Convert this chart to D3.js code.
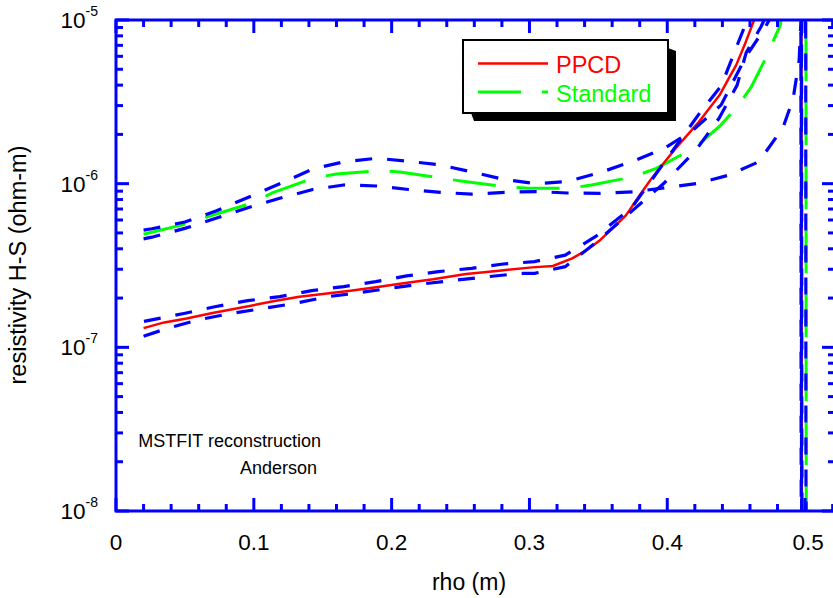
<!DOCTYPE html>
<html>
<head>
<meta charset="utf-8">
<script src="https://cdn.jsdelivr.net/npm/d3@7"></script>
<style>
  html, body { margin: 0; padding: 0; background: #fff; }
  svg { display: block; font-family: "Liberation Sans", Arial, sans-serif; }
</style>
</head>
<body>
<svg id="chart" width="833" height="598"></svg>
<script>
// Resistivity profiles (ohm-m) versus minor radius rho (m)

// PPCD profile and its uncertainty band
const rhoPPCD = [0.02, 0.035, 0.0512, 0.07, 0.097, 0.115, 0.133, 0.15, 0.17, 0.19, 0.206, 0.23, 0.254, 0.278, 0.302, 0.317, 0.331, 0.341, 0.351, 0.36, 0.37, 0.38, 0.387, 0.396, 0.406, 0.415, 0.423, 0.43, 0.438, 0.445, 0.45, 0.456, 0.463, 0.475, 0.49, 0.497, 0.4975, 0.498];
const ppcd = [1.31e-7, 1.42e-7, 1.50e-7, 1.62e-7, 1.79e-7, 1.92e-7, 2.04e-7, 2.12e-7, 2.22e-7, 2.34e-7, 2.45e-7, 2.61e-7, 2.81e-7, 2.94e-7, 3.08e-7, 3.14e-7, 3.50e-7, 3.90e-7, 4.50e-7, 5.30e-7, 6.40e-7, 8.50e-7, 1.03e-6, 1.29e-6, 1.64e-6, 2.00e-6, 2.39e-6, 2.85e-6, 3.48e-6, 4.46e-6, 5.30e-6, 7.00e-6, 1.0e-5, 3.0e-5, 2.0e-4, 1.0e-2, 3.0e-8, 1.0e-9];

const rhoPPCDHi = [0.0203, 0.0493, 0.0717, 0.0957, 0.1188, 0.142, 0.1652, 0.1884, 0.2109, 0.234, 0.258, 0.281, 0.3036, 0.326, 0.3478, 0.374, 0.3906, 0.4246, 0.4391, 0.4507, 0.458, 0.475, 0.4968, 0.4971, 0.4974];
const ppcdHi = [1.44e-7, 1.61e-7, 1.77e-7, 1.93e-7, 2.04e-7, 2.22e-7, 2.35e-7, 2.52e-7, 2.73e-7, 2.90e-7, 3.04e-7, 3.23e-7, 3.34e-7, 3.66e-7, 4.74e-7, 7.10e-7, 1.11e-6, 2.78e-6, 3.95e-6, 7.00e-6, 1.0e-5, 5.0e-5, 1.0e-2, 3.0e-8, 1.0e-9];

const rhoPPCDLo = [0.02, 0.0377, 0.0609, 0.0833, 0.1072, 0.1304, 0.1536, 0.1768, 0.1993, 0.2225, 0.2457, 0.2696, 0.2928, 0.3036, 0.326, 0.3478, 0.3978, 0.421, 0.4377, 0.4507, 0.4572, 0.468, 0.4703, 0.485, 0.4972, 0.4976, 0.498];
const ppcdLo = [1.17e-7, 1.31e-7, 1.48e-7, 1.61e-7, 1.73e-7, 1.86e-7, 2.04e-7, 2.16e-7, 2.30e-7, 2.44e-7, 2.57e-7, 2.70e-7, 2.83e-7, 2.83e-7, 3.11e-7, 4.35e-7, 1.01e-6, 1.61e-6, 2.52e-6, 4.00e-6, 6.30e-6, 9.10e-6, 1.0e-5, 1.0e-4, 1.0e-2, 3.0e-8, 1.0e-9];

// Standard discharge profile and its uncertainty band
const rhoStd = [0.02, 0.051, 0.0667, 0.098, 0.1138, 0.1428, 0.16, 0.19, 0.206, 0.2362, 0.253, 0.2833, 0.299, 0.329, 0.345, 0.375, 0.392, 0.421, 0.439, 0.452, 0.461, 0.47, 0.482, 0.49, 0.5005, 0.5008, 0.501];
const std = [4.91e-7, 5.68e-7, 6.29e-7, 7.59e-7, 8.81e-7, 1.08e-6, 1.146e-6, 1.20e-6, 1.18e-6, 1.08e-6, 1.03e-6, 9.58e-7, 9.37e-7, 9.37e-7, 9.82e-7, 1.10e-6, 1.24e-6, 1.68e-6, 2.29e-6, 3.03e-6, 3.91e-6, 5.53e-6, 9.30e-6, 3.0e-5, 1.0e-2, 3.0e-8, 1.0e-9];

const rhoStdHi = [0.02, 0.026, 0.05, 0.0725, 0.0957, 0.1196, 0.1428, 0.1652, 0.1891, 0.2123, 0.2355, 0.258, 0.2819, 0.305, 0.3275, 0.3514, 0.376, 0.3978, 0.4188, 0.4391, 0.4572, 0.47, 0.474, 0.49, 0.5003, 0.5006, 0.5009];
const stdHi = [5.2e-7, 5.30e-7, 5.83e-7, 6.81e-7, 8.23e-7, 1.005e-6, 1.23e-6, 1.36e-6, 1.43e-6, 1.37e-6, 1.30e-6, 1.18e-6, 1.06e-6, 1.00e-6, 1.03e-6, 1.17e-6, 1.38e-6, 1.64e-6, 2.13e-6, 3.03e-6, 6.00e-6, 8.70e-6, 1.0e-5, 1.0e-4, 1.0e-2, 3.0e-8, 1.0e-9];

const rhoStdLo = [0.02, 0.026, 0.05, 0.0725, 0.0957, 0.1188, 0.1428, 0.1652, 0.1891, 0.2123, 0.2355, 0.258, 0.2819, 0.305, 0.3275, 0.3514, 0.376, 0.421, 0.4435, 0.4638, 0.468, 0.484, 0.4913, 0.4957, 0.497, 0.4971, 0.4974, 0.4977];
const stdLo = [4.6e-7, 4.71e-7, 5.33e-7, 6.14e-7, 7.13e-7, 8.14e-7, 9.21e-7, 9.82e-7, 9.68e-7, 9.21e-7, 8.85e-7, 8.62e-7, 8.85e-7, 8.95e-7, 8.77e-7, 8.73e-7, 8.93e-7, 1.00e-6, 1.12e-6, 1.33e-6, 1.42e-6, 2.2e-6, 3.3e-6, 5.7e-6, 1.0e-5, 1.0e-2, 3.0e-8, 1.0e-9];

// Axis ticks and labels
const xMajor = [0, 0.1, 0.2, 0.3, 0.4, 0.5];
const xLabels = ["0", "0.1", "0.2", "0.3", "0.4", "0.5"];
const yMajorExp = [-5, -6, -7, -8];

const legendNames = ["PPCD", "Standard"];
const noteLines = ["MSTFIT reconstruction", "Anderson"];
const xTitle = "rho (m)";
const yTitle = "resistivity H-S (ohm-m)";

(function () {
  const svg = d3.select("#chart");
  const W = 833, H = 598;
  const pL = 116, pR = 835, pT = 20, pB = 511;

  svg.append("rect").attr("width", W).attr("height", H).attr("fill", "#fff");

  const x = d3.scaleLinear().domain([0, 0.5217]).range([pL, pR]);
  const y = d3.scaleLog().domain([1e-8, 1e-5]).range([pB, pT]);

  const BLUE = "#0000ff", RED = "#ff0000", GREEN = "#00ff00";

  svg.append("defs").append("clipPath").attr("id", "plotClip")
    .append("rect").attr("x", pL).attr("y", pT)
    .attr("width", pR - pL).attr("height", pB - pT);

  const plot = svg.append("g").attr("clip-path", "url(#plotClip)");

  const line = d3.line().x(d => x(d[0])).y(d => y(d[1]));
  const zipped = (r, v) => r.map((d, i) => [d, v[i]]);

  function drawSeries(r, v, color, width, dash) {
    plot.append("path")
      .datum(zipped(r, v))
      .attr("d", line)
      .attr("fill", "none")
      .attr("stroke", color)
      .attr("stroke-width", width)
      .attr("stroke-linejoin", "round")
      .attr("stroke-dasharray", dash);
  }

  drawSeries(rhoStd, std, GREEN, 3, "43,21");
  drawSeries(rhoPPCD, ppcd, RED, 2.5, null);
  drawSeries(rhoStdHi, stdHi, BLUE, 3.2, "17,15");
  drawSeries(rhoStdLo, stdLo, BLUE, 3.2, "17,15");
  drawSeries(rhoPPCDHi, ppcdHi, BLUE, 3.2, "17,15");
  drawSeries(rhoPPCDLo, ppcdLo, BLUE, 3.2, "17,15");

  // frame and ticks on all four sides
  const axes = svg.append("g").attr("stroke", BLUE).attr("stroke-width", 3).attr("fill", "none");
  axes.append("rect").attr("x", pL).attr("y", pT)
    .attr("width", pR - pL).attr("height", pB - pT);

  const MAJ = 13, MIN = 7;
  d3.range(0, 0.5217, 0.02).forEach(t => {
    const isMaj = Math.abs(Math.round(t * 10) - t * 10) < 1e-6;
    const len = isMaj ? MAJ : MIN;
    const px = x(t);
    axes.append("line").attr("x1", px).attr("x2", px).attr("y1", pB).attr("y2", pB - len);
    axes.append("line").attr("x1", px).attr("x2", px).attr("y1", pT).attr("y2", pT + len);
  });

  y.ticks().forEach(t => {
    const m = Math.round(t / Math.pow(10, Math.floor(Math.log10(t) + 1e-9)));
    const len = m === 1 ? MAJ : MIN;
    const py = y(t);
    axes.append("line").attr("x1", pL).attr("x2", pL + len).attr("y1", py).attr("y2", py);
    axes.append("line").attr("x1", pR).attr("x2", pR - len).attr("y1", py).attr("y2", py);
  });

  // tick labels
  const xl = svg.append("g").attr("font-size", 22.5).attr("fill", "#000").attr("text-anchor", "middle");
  xMajor.forEach((t, i) => {
    xl.append("text").attr("x", x(t) + (i === 5 ? 3 : 0)).attr("y", 550).text(xLabels[i]);
  });

  const yl = svg.append("g").attr("fill", "#000").attr("text-anchor", "end");
  yMajorExp.forEach(e => {
    const t = yl.append("text").attr("x", 98).attr("y", y(Math.pow(10, e)) + 8).attr("font-size", 22.5);
    t.append("tspan").text("10");
    t.append("tspan").attr("font-size", 14).attr("dy", -12).text(String(e));
  });

  // axis titles
  svg.append("text").attr("x", 469).attr("y", 590).attr("text-anchor", "middle")
    .attr("font-size", 23).text(xTitle);
  svg.append("text").attr("transform", "translate(26,265) rotate(-90)")
    .attr("text-anchor", "middle").attr("font-size", 23.5).text(yTitle);

  // annotation
  const note = svg.append("g").attr("font-size", 18).attr("text-anchor", "end").attr("fill", "#000");
  note.append("text").attr("x", 321).attr("y", 447).text(noteLines[0]);
  note.append("text").attr("x", 317).attr("y", 474).text(noteLines[1]);

  // legend with drop shadow
  const lg = svg.append("g");
  const bx = 463, by = 40, bw = 205, bh = 73, sh = 8;
  lg.append("polygon")
    .attr("points", [[bx + sh, by + bh], [bx + bw, by + bh], [bx + bw, by + sh], [bx + bw + sh, by + sh + 3], [bx + bw + sh, by + bh + sh], [bx + sh + 3, by + bh + sh]].map(p => p.join(",")).join(" "))
    .attr("fill", "#000");
  lg.append("rect").attr("x", bx).attr("y", by).attr("width", bw).attr("height", bh)
    .attr("fill", "#fff").attr("stroke", "#000").attr("stroke-width", 2);
  const legendColors = [RED, GREEN];
  const legendDash = [null, "43,21"];
  legendNames.forEach((name, i) => {
    const ly = 63.5 + i * 28.5;
    lg.append("line").attr("x1", 478).attr("x2", 548).attr("y1", ly).attr("y2", ly)
      .attr("stroke", legendColors[i]).attr("stroke-width", i ? 3 : 2.5)
      .attr("stroke-dasharray", legendDash[i]);
    lg.append("text").attr("x", 556).attr("y", ly + 9.5).attr("font-size", 23.5)
      .attr("fill", legendColors[i]).text(name);
  });
})();
</script>
</body>
</html>
